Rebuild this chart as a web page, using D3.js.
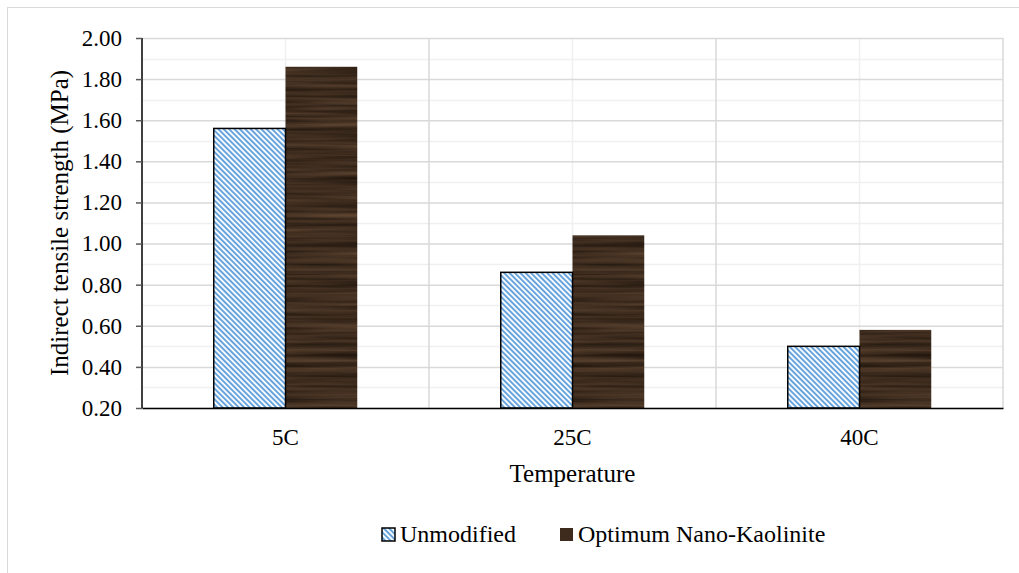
<!DOCTYPE html>
<html>
<head>
<meta charset="utf-8">
<script src="https://cdn.jsdelivr.net/npm/d3@7"></script>
<style>
  body { margin: 0; background: #fff; }
  svg text { font-family: "Liberation Serif", "Times New Roman", Times, "DejaVu Serif", serif; fill: #000; }
</style>
</head>
<body>
<div id="chart"></div>
<script>
// values
var categories = ["5C", "25C", "40C"];
var seriesNames = ["Unmodified", "Optimum Nano-Kaolinite"];
var unmodified = [1.56, 0.86, 0.50];
var nanoKaolinite = [1.86, 1.04, 0.58];
var yTicks = [0.20, 0.40, 0.60, 0.80, 1.00, 1.20, 1.40, 1.60, 1.80, 2.00];

var serif = "'Liberation Serif', 'Times New Roman', Times, 'DejaVu Serif', serif";
var width = 1019, height = 573;
var margin = {top: 38, right: 16, bottom: 165, left: 142};
var innerW = width - margin.left - margin.right,
    innerH = height - margin.top - margin.bottom;

var rows = categories.map(function(c, i) {
  return {cat: c, values: [unmodified[i], nanoKaolinite[i]]};
});

var svg = d3.select("#chart").append("svg")
    .attr("width", width)
    .attr("height", height)
    .attr("font-family", serif);

svg.append("rect")
    .attr("width", width).attr("height", height)
    .attr("fill", "#fff");

// chart frame (cut off at right and bottom in the reference)
svg.append("rect")
    .attr("x", 7.5).attr("y", 7.5)
    .attr("width", width + 50).attr("height", height + 50)
    .attr("fill", "none")
    .attr("stroke", "#d9d9d9");

var defs = svg.append("defs");

// wide downward diagonal pattern
var pat = defs.append("pattern")
    .attr("id", "stripes")
    .attr("patternUnits", "userSpaceOnUse")
    .attr("width", 3.8).attr("height", 3.8)
    .attr("patternTransform", "rotate(-45)");
pat.append("rect").attr("width", 3.8).attr("height", 3.8).attr("fill", "#fff");
pat.append("rect").attr("width", 2).attr("height", 3.8).attr("fill", "#66a3dc");

// wood grain for the second series
var wood = defs.append("filter")
    .attr("id", "wood")
    .attr("color-interpolation-filters", "sRGB")
    .attr("x", 0).attr("y", 0).attr("width", 1).attr("height", 1);
wood.append("feTurbulence")
    .attr("type", "fractalNoise")
    .attr("baseFrequency", "0.006 0.2")
    .attr("numOctaves", 3)
    .attr("seed", 7)
    .attr("result", "noise");
wood.append("feColorMatrix")
    .attr("in", "noise")
    .attr("type", "matrix")
    .attr("values",
      "0.34 0 0 0 0.075 " +
      "0.26 0 0 0 0.045 " +
      "0.20 0 0 0 0.02 " +
      "0 0 0 0 1")
    .attr("result", "tint");
wood.append("feComposite")
    .attr("in", "tint").attr("in2", "SourceAlpha")
    .attr("operator", "in");

var g = svg.append("g")
    .attr("transform", "translate(" + margin.left + "," + margin.top + ")");

var x0 = d3.scaleBand().domain(categories).range([0, innerW]);
var bw = x0.bandwidth();
var x1 = d3.scaleBand().domain(seriesNames).range([bw * 0.25, bw * 0.75]);
var y = d3.scaleLinear().domain([0.2, 2.0]).range([innerH, 0]);

// minor gridlines
var minor = d3.range(0.3, 2.0, 0.2);
g.append("g").selectAll("line").data(minor).enter().append("line")
    .attr("x1", 0).attr("x2", innerW)
    .attr("y1", function(d) { return Math.round(y(d)) + 0.5; })
    .attr("y2", function(d) { return Math.round(y(d)) + 0.5; })
    .attr("stroke", "#f0f0f0").attr("stroke-width", 1.5);
g.append("g").selectAll("line").data(categories).enter().append("line")
    .attr("x1", function(d) { return x0(d) + bw / 2; })
    .attr("x2", function(d) { return x0(d) + bw / 2; })
    .attr("y1", 0).attr("y2", innerH)
    .attr("stroke", "#f0f0f0").attr("stroke-width", 1.5);

// major gridlines
g.append("g")
    .call(d3.axisLeft(y).tickValues(yTicks).tickSize(-innerW).tickFormat(""))
    .call(function(s) {
      s.select(".domain").remove();
      s.selectAll("line").attr("stroke", "#d9d9d9").attr("stroke-width", 1.5);
    });
g.append("g").selectAll("line").data(categories).enter().append("line")
    .attr("x1", function(d) { return x0(d) + bw; })
    .attr("x2", function(d) { return x0(d) + bw; })
    .attr("y1", 0).attr("y2", innerH)
    .attr("stroke", "#d9d9d9").attr("stroke-width", 1.5);

// bars
var groups = g.append("g").selectAll("g").data(rows).enter().append("g")
    .attr("transform", function(d) { return "translate(" + x0(d.cat) + ",0)"; });

groups.append("rect")
    .attr("x", x1(seriesNames[1]))
    .attr("width", x1.bandwidth())
    .attr("y", function(d) { return y(d.values[1]); })
    .attr("height", function(d) { return innerH - y(d.values[1]); })
    .attr("fill", "#3f2b1e")
    .attr("filter", "url(#wood)");

groups.append("rect")
    .attr("x", x1(seriesNames[0]))
    .attr("width", x1.bandwidth())
    .attr("y", function(d) { return y(d.values[0]); })
    .attr("height", function(d) { return innerH - y(d.values[0]); })
    .attr("fill", "url(#stripes)")
    .attr("stroke", "#000")
    .attr("stroke-width", 1.5);

// y axis
var yAxis = g.append("g")
    .call(d3.axisLeft(y).tickValues(yTicks).tickSize(6).tickPadding(14)
      .tickFormat(d3.format(".2f")));
yAxis.attr("font-family", serif);
yAxis.select(".domain").attr("stroke", "#000").attr("stroke-width", 1.5)
    .attr("d", "M0,0V" + innerH);
yAxis.selectAll(".tick line").attr("stroke", "#595959").attr("stroke-width", 1.5);
yAxis.selectAll("text").style("font-size", "23px");

// x axis
var xAxis = g.append("g")
    .attr("transform", "translate(0," + innerH + ")")
    .call(d3.axisBottom(x0).tickSize(0).tickPadding(21));
xAxis.attr("font-family", serif);
xAxis.select(".domain").attr("stroke", "#000").attr("stroke-width", 1.5);
xAxis.selectAll("text").style("font-size", "23px");

// axis titles
svg.append("text")
    .attr("transform", "translate(68," + (margin.top + innerH / 2) + ") rotate(-90)")
    .attr("text-anchor", "middle")
    .style("font-size", "25px")
    .text("Indirect tensile strength (MPa)");

svg.append("text")
    .attr("x", margin.left + innerW / 2)
    .attr("y", 482)
    .attr("text-anchor", "middle")
    .style("font-size", "25px")
    .text("Temperature");

// legend
var legendX = [382, 560];
var legend = svg.append("g").selectAll("g").data(seriesNames).enter().append("g")
    .attr("transform", function(d, i) { return "translate(" + legendX[i] + ",528)"; });
legend.append("rect")
    .attr("width", 13).attr("height", 13)
    .attr("fill", function(d, i) { return i === 0 ? "url(#stripes)" : "#3f2b1e"; })
    .attr("stroke", function(d, i) { return i === 0 ? "#000" : "none"; })
    .attr("stroke-width", 1.5);
legend.append("text")
    .attr("x", 18).attr("y", 14)
    .style("font-size", "24px")
    .text(function(d) { return d; });
</script>
</body>
</html>
